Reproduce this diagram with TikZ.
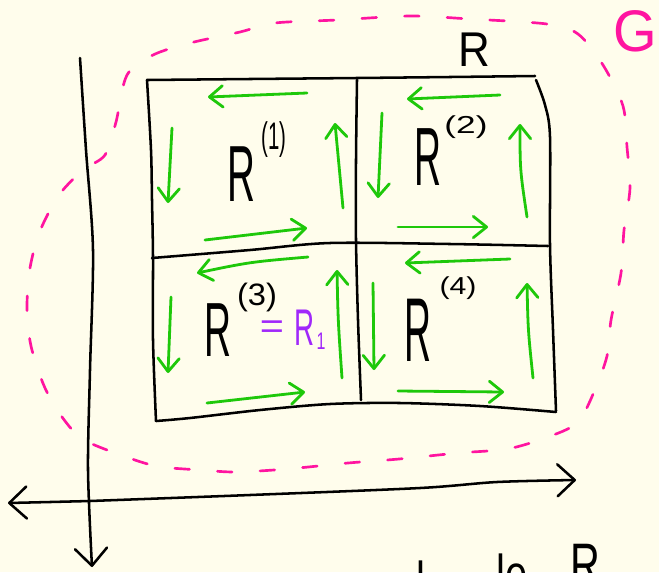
\documentclass[tikz,border=0pt]{standalone}
\usepackage{fontspec}
\setmainfont{Liberation Sans}
\usetikzlibrary{arrows.meta}
\definecolor{bg}{RGB}{255,253,236}
\definecolor{grn}{RGB}{30,200,10}
\definecolor{mag}{RGB}{255,20,160}
\definecolor{pur}{RGB}{160,40,250}
\begin{document}
\begin{tikzpicture}[x=0.75pt,y=-0.75pt,
  ink/.style={line width=1.9pt, line cap=round, line join=round},
  garrow/.style={draw=grn, line width=2.1pt, line cap=round, -{Straight Barb[length=10pt,width=16pt,round]}},
  axistip/.style={-{Straight Barb[length=13pt,width=24pt,round]}},
  hw/.style={inner sep=0pt, font=\fontsize{10}{10}\selectfont},
  gpath/.style={draw=mag, line width=2pt, line cap=round, dash pattern=on 11pt off 21pt}]
\fill[bg] (0,0) rectangle (659,572);
\useasboundingbox (0,0) rectangle (659,572);

% region G
\draw[gpath] plot[smooth cycle] coordinates {(127,75) (153,55) (190,43) (240,32) (275,23) (337,20) (410,16) (470,19) (547,24) (578,34) (603,65) (623,106) (627,147) (630,188) (624,230) (621,273) (611,320) (607,356) (594,392) (577,423) (545,438) (507,449) (458,453) (399,459) (348,463) (287,469) (236,472) (201,470) (162,467) (135,460) (86,441) (65,421) (45,388) (31,346) (27,308) (30,268) (40,231) (59,195) (83,170) (105,155) (116,122)};

% axes
\draw[ink, axistip] plot[smooth] coordinates {(80,58) (86,150) (93,250) (90,370) (88,470) (92,567)};
\draw[ink, axistip] plot[smooth] coordinates {(90,501) (250,495) (420,488) (497,482) (576,480)};
\draw[ink, axistip] plot[smooth] coordinates {(90,501) (50,502) (8,503)};

% rectangle R and its subdivision
\draw[ink] plot[smooth] coordinates {(147,80) (250,79) (357,78) (450,77) (535,76)};
\draw[ink] plot[smooth] coordinates {(536,80) (545,105) (550,137) (550,245) (553,330) (556,411)};
\draw[ink] plot[smooth] coordinates {(147,80) (151,150) (152,200) (153,257) (153,340) (156,421)};
\draw[ink] plot[smooth] coordinates {(156,421) (190,418) (260,410) (330,404) (400,403) (480,406) (556,412)};
\draw[ink] plot[smooth] coordinates {(152,258) (250,250) (330,243) (450,244) (548,246)};
\draw[ink] plot[smooth] coordinates {(357,80) (356,160) (356,240) (358,320) (361,400)};

% green boundary arrows
% cell 1
\draw[garrow] (307,93) -- (208,97);
\draw[garrow] (172,128) -- (168,203);
\draw[garrow] (205,240) -- (307,228);
\draw[garrow] (343,208) .. controls (339,167) .. (335,123);
% cell 2
\draw[garrow] (500,95) -- (407,99);
\draw[garrow] (382,113) -- (378,198);
\draw[garrow] (398,227) -- (488,227);
\draw[garrow] (527,217) .. controls (520,170) .. (520,124);
% cell 3
\draw[garrow] (308,257) .. controls (250,262) .. (197,273);
\draw[garrow] (171,297) -- (168,373);
\draw[garrow] (207,403) -- (305,392);
\draw[garrow] (342,378) .. controls (338,320) .. (337,270);
% cell 4
\draw[garrow] (510,259) -- (405,263);
\draw[garrow] (373,283) -- (374,370);
\draw[garrow] (398,391) -- (504,392);
\draw[garrow] (533,378) .. controls (528,330) .. (527,283);

% labels
\node[hw, xscale=2.9, yscale=5.97] (r1) at (241,174) {R};
\node[hw, xscale=1.53, yscale=2.88] (s1) at (274,140) {(1)};
\node[hw, xscale=2.8, yscale=6.2] (r2) at (428,157) {R};
\node[hw, xscale=2.64, yscale=1.84] (s2) at (466,127) {(2)};
\node[hw, xscale=2.8, yscale=5.76] (r3) at (218,330) {R};
\node[hw, xscale=2.45, yscale=2.32] (s3) at (257,297) {(3)};
\node[hw, text=pur, xscale=3.1, yscale=2.7] (eq) at (272,330) {=};
\node[hw, text=pur, xscale=2.08, yscale=3.87] (rr) at (305,328) {R};
\node[hw, text=pur, xscale=1.2, yscale=1.8] (one) at (321,341) {1};
\node[hw, xscale=2.8, yscale=6.8] (r4) at (418,330) {R};
\node[hw, xscale=2.27, yscale=1.84] (s4) at (458,288) {(4)};
\node[hw, xscale=3.3, yscale=3.66] (rtop) at (474,50) {R};
\node[hw, text=mag, xscale=4.2, yscale=4.4] (g) at (635,31) {G};

% text cut off at the bottom edge
\node[hw, anchor=north, xscale=3, yscale=4] (t1) at (421,560) {l};
\node[hw, anchor=north west, xscale=3, yscale=4] (t2) at (496,553) {le};
\node[hw, anchor=north, xscale=3.1, yscale=4.5] (t3) at (585,543) {R};
\end{tikzpicture}
\end{document}
